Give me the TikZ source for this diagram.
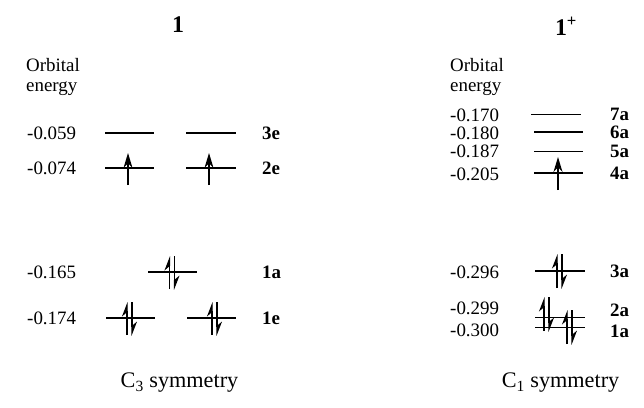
\documentclass[tikz,border=0pt]{standalone}
\usepackage{fontspec}
\setmainfont{Liberation Serif}
\usetikzlibrary{arrows.meta}

\tikzset{
  txt/.style={inner sep=0pt, font=\fontsize{19}{20}\selectfont},
  val/.style={txt, anchor=west},
  sym/.style={txt, anchor=west, font=\fontsize{19}{20}\selectfont\bfseries},
  level/.style={line width=1.7bp},
  thinlevel/.style={line width=1bp},
  spin/.style={line width=1.1bp, -{Stealth[harpoon, length=13bp, width=10bp]}},
  single/.style={line width=1.3bp, -{Stealth[length=15bp, width=9bp]}}
}

\begin{document}
\begin{tikzpicture}[x=1bp, y=-1bp]
  \useasboundingbox (0,0) rectangle (644,407);
  % Setup 1 (C3)
  \node[txt, font=\fontsize{24}{24}\selectfont\bfseries] (titleA) at (178,25) {1};
  \node[txt, anchor=north west, align=left] (orbA) at (26,58) {Orbital\\energy};
  \node[val] (eA3e) at (27,133) {-0.059};
  \node[val] (eA2e) at (27,168) {-0.074};
  \node[val] (eA1a) at (27,272) {-0.165};
  \node[val] (eA1e) at (27,318) {-0.174};
  \node[sym] (sA3e) at (262,133) {3e};
  \node[sym] (sA2e) at (262,168) {2e};
  \node[sym] (sA1a) at (262,272) {1a};
  \node[sym] (sA1e) at (262,318) {1e};
  \draw[level] (105,133) -- (154,133);
  \draw[level] (186,133) -- (236,133);
  \draw[level] (105,168) -- (154,168);
  \draw[level] (186,168) -- (236,168);
  \draw[level] (148,272) -- (197,272);
  \draw[level] (106,318) -- (155,318);
  \draw[level] (187,318) -- (236,318);
  \draw[single] (128,185) -- (128,153);
  \draw[single] (209,185) -- (209,153);
  \draw[spin] (169.5,289) -- (169.5,256);
  \draw[spin] (174.5,256) -- (174.5,290);
  \draw[spin] (127,335) -- (127,302);
  \draw[spin] (132,302) -- (132,336);
  \draw[spin] (212,335) -- (212,302);
  \draw[spin] (217,302) -- (217,336);
  \node[txt, font=\fontsize{22.3}{23}\selectfont] (symA) at (179.5,383) {C\textsubscript{3} symmetry};
  % Setup 2 (C1)
  \node[txt, font=\fontsize{24}{24}\selectfont\bfseries] (titleB) at (566,26) {1\textsuperscript{+}};
  \node[txt, anchor=north west, align=left] (orbB) at (450,58) {Orbital\\energy};
  \node[val] (eB7a) at (450,115) {-0.170};
  \node[val] (eB6a) at (450,133) {-0.180};
  \node[val] (eB5a) at (450,151) {-0.187};
  \node[val] (eB4a) at (450,174) {-0.205};
  \node[val] (eB3a) at (450,272) {-0.296};
  \node[val] (eB2a) at (450,308) {-0.299};
  \node[val] (eB1a) at (450,330) {-0.300};
  \node[sym] (sB7a) at (610,114) {7a};
  \node[sym] (sB6a) at (610,132) {6a};
  \node[sym] (sB5a) at (610,151) {5a};
  \node[sym] (sB4a) at (610,173) {4a};
  \node[sym] (sB3a) at (610,271) {3a};
  \node[sym] (sB2a) at (610,310) {2a};
  \node[sym] (sB1a) at (610,331) {1a};
  \draw[thinlevel] (531,114) -- (581,114);
  \draw[level] (534,132) -- (583,132);
  \draw[thinlevel] (534,151) -- (583,151);
  \draw[level] (534,173) -- (583,173);
  \draw[level] (535,271) -- (585,271);
  \draw[thinlevel] (535,317) -- (585,317);
  \draw[thinlevel] (535,327) -- (585,327);
  \draw[single] (558,190) -- (558,157);
  \draw[spin] (557,288) -- (557,254);
  \draw[spin] (562,254) -- (562,289);
  \draw[spin] (544,331) -- (544,297);
  \draw[spin] (549,297) -- (549,332);
  \draw[spin] (567,344) -- (567,310);
  \draw[spin] (572,310) -- (572,345);
  \node[txt, font=\fontsize{22.3}{23}\selectfont] (symB) at (560.5,383) {C\textsubscript{1} symmetry};
\end{tikzpicture}
\end{document}
